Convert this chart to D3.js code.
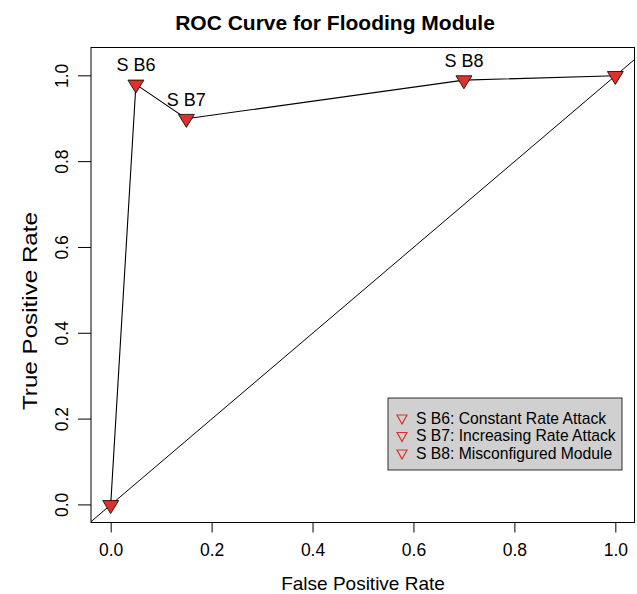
<!DOCTYPE html>
<html>
<head>
<meta charset="utf-8">
<script src="https://cdn.jsdelivr.net/npm/d3@7"></script>
<style>
  body { margin: 0; background: #fff; }
  text { font-family: "Liberation Sans", Arial, Helvetica, sans-serif; fill: #000; }
</style>
</head>
<body>
<svg id="chart" width="637" height="594"></svg>
<script>
// ROC points (false positive rate, true positive rate)
let fpr = [0.0, 0.05, 0.15, 0.70, 1.0];
let tpr = [0.0, 0.98, 0.90, 0.99, 1.0];
let pointLabels = ['', 'S B6', 'S B7', 'S B8', ''];

let xTicks = [0.0, 0.2, 0.4, 0.6, 0.8, 1.0];
let yTicks = [0.0, 0.2, 0.4, 0.6, 0.8, 1.0];

let legendLabels = [
    'S B6: Constant Rate Attack',
    'S B7: Increasing Rate Attack',
    'S B8: Misconfigured Module'
];

let MARKER_FILL = '#e0302a';
let LEGEND_FILL = '#d0d0d0';
let FONT = '"Liberation Sans", Arial, sans-serif';

let svg = d3.select('#chart');

// plot region in pixels
let plot = { left: 91, right: 634.5, top: 47.5, bottom: 522.5 };

let x = d3.scaleLinear().domain([-0.039, 1.038]).range([plot.left, plot.right]);
let y = d3.scaleLinear().domain([-0.041, 1.066]).range([plot.bottom, plot.top]);

let fmt = d3.format('.1f');

// clip so abline stays inside the box
svg.append('clipPath').attr('id', 'clip')
    .append('rect')
    .attr('x', plot.left).attr('y', plot.top)
    .attr('width', plot.right - plot.left).attr('height', plot.bottom - plot.top);

// axes
let xAxis = svg.append('g')
    .attr('transform', `translate(0,${plot.bottom})`)
    .call(d3.axisBottom(x).tickValues(xTicks).tickFormat(fmt).tickSize(10));
xAxis.select('.domain').remove();
xAxis.selectAll('line').attr('stroke', '#000');
xAxis.selectAll('text')
    .style('font-size', '17.5px').style('font-family', FONT)
    .attr('y', 550 - plot.bottom).attr('dy', null)
    .attr('dominant-baseline', 'central');

let yAxis = svg.append('g')
    .attr('transform', `translate(${plot.left},0)`)
    .call(d3.axisLeft(y).tickValues(yTicks).tickFormat(fmt).tickSize(13));
yAxis.select('.domain').remove();
yAxis.selectAll('.tick').attr('transform', null);
yAxis.selectAll('.tick line')
    .attr('stroke', '#000')
    .attr('y1', d => y(d)).attr('y2', d => y(d));
yAxis.selectAll('text')
    .style('font-size', '17.5px').style('font-family', FONT)
    .attr('x', null).attr('dy', null).attr('y', 0)
    .attr('text-anchor', 'middle')
    .attr('dominant-baseline', 'central')
    .attr('transform', d => `translate(${62 - plot.left},${y(d)}) rotate(-90)`);

// diagonal reference line y = x
svg.append('line')
    .attr('clip-path', 'url(#clip)')
    .attr('x1', x(-0.1)).attr('y1', y(-0.1))
    .attr('x2', x(1.2)).attr('y2', y(1.2))
    .attr('stroke', '#000').attr('stroke-width', 1);

// ROC curve
let pts = fpr.map((d, i) => ({ fx: d, ty: tpr[i], label: pointLabels[i] }));
svg.append('path')
    .datum(pts)
    .attr('fill', 'none')
    .attr('stroke', '#000')
    .attr('stroke-width', 1.1)
    .attr('d', d3.line().x(d => x(d.fx)).y(d => y(d.ty)));

// down-pointing triangle centred at 0,0
function triangle(w, h) {
    return `M${-w / 2},${-h / 3}L${w / 2},${-h / 3}L0,${2 * h / 3}Z`;
}

svg.selectAll('.marker')
    .data(pts)
    .enter().append('path')
    .attr('class', 'marker')
    .attr('transform', d => `translate(${x(d.fx)},${y(d.ty)})`)
    .attr('d', triangle(16, 13))
    .attr('fill', MARKER_FILL)
    .attr('stroke', '#000')
    .attr('stroke-width', 0.8);

svg.selectAll('.plabel')
    .data(pts.filter(d => d.label))
    .enter().append('text')
    .attr('class', 'plabel')
    .attr('x', d => x(d.fx))
    .attr('y', d => y(d.ty) - 13)
    .attr('text-anchor', 'middle')
    .style('font-size', '18px')
    .text(d => d.label);

// box
svg.append('rect')
    .attr('x', plot.left).attr('y', plot.top)
    .attr('width', plot.right - plot.left).attr('height', plot.bottom - plot.top)
    .attr('fill', 'none').attr('stroke', '#000').attr('stroke-width', 1);

// legend
let legend = svg.append('g').attr('transform', 'translate(388,398)');
legend.append('rect')
    .attr('width', 234).attr('height', 72)
    .attr('fill', LEGEND_FILL).attr('stroke', '#000').attr('stroke-width', 0.8);
legendLabels.forEach((lab, i) => {
    let cy = 20 + i * 17.5;
    legend.append('path')
        .attr('transform', `translate(14,${cy})`)
        .attr('d', triangle(10, 9))
        .attr('fill', 'none')
        .attr('stroke', MARKER_FILL)
        .attr('stroke-width', 1.2);
    legend.append('text')
        .attr('x', 28).attr('y', cy)
        .attr('dominant-baseline', 'central')
        .style('font-size', '15.7px')
        .text(lab);
});

// titles
svg.append('text')
    .attr('x', 335).attr('y', 22)
    .attr('text-anchor', 'middle').attr('dominant-baseline', 'central')
    .style('font-size', '21px').style('font-weight', 'bold')
    .text('ROC Curve for Flooding Module');

svg.append('text')
    .attr('x', 363).attr('y', 583)
    .attr('text-anchor', 'middle').attr('dominant-baseline', 'central')
    .style('font-size', '19px')
    .text('False Positive Rate');

svg.append('text')
    .attr('transform', 'translate(30,311) rotate(-90)')
    .attr('text-anchor', 'middle').attr('dominant-baseline', 'central')
    .attr('textLength', 198).attr('lengthAdjust', 'spacingAndGlyphs')
    .style('font-size', '19.5px')
    .text('True Positive Rate');
</script>
</body>
</html>
